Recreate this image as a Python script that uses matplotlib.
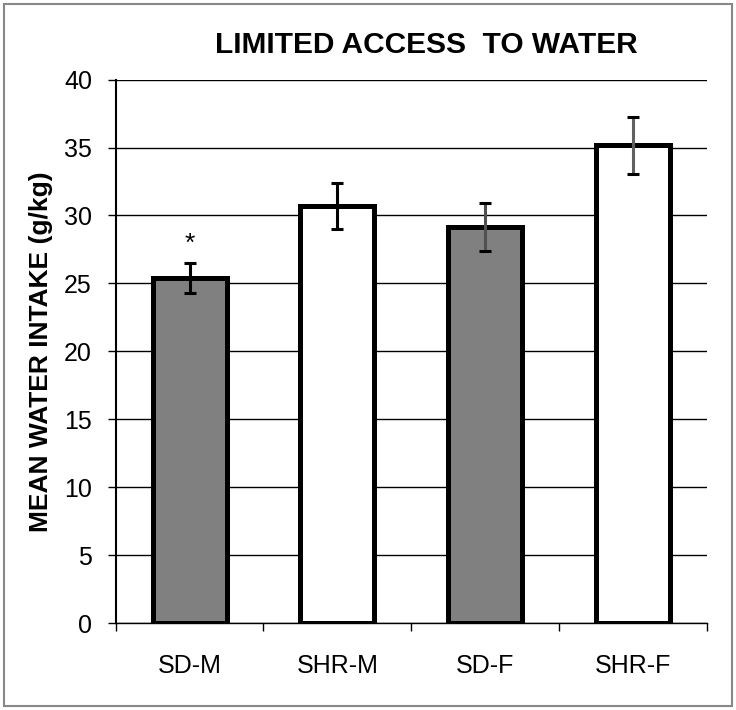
import numpy as np
import matplotlib.pyplot as plt
from matplotlib.patches import Rectangle

groups = ["SD-M", "SHR-M", "SD-F", "SHR-F"]
intake = [25.4, 30.7, 29.15, 35.15]
sem = [1.12, 1.7, 1.75, 2.1]
fills = ["#808080", "white", "#808080", "white"]
err_colors = ["black", "black", "#505050", "#606060"]
yticks = [0, 5, 10, 15, 20, 25, 30, 35, 40]

plt.rcParams['font.family'] = ['Liberation Sans', 'DejaVu Sans']

fig = plt.figure(figsize=(7.36, 7.10), dpi=100)
ax = fig.add_axes([0.157, 0.122, 0.804, 0.766])

x = np.arange(len(groups))
ax.set_axisbelow(True)
ax.yaxis.grid(True, color="black", lw=1)
ax.bar(x, intake, width=0.5, color=fills, edgecolor="black", linewidth=3.6, zorder=2)
for i in range(len(groups)):
    eb = ax.errorbar(x[i], intake[i], yerr=sem[i], fmt="none", ecolor=err_colors[i],
                     elinewidth=2.2, capsize=4, capthick=2.2, zorder=3)
    for cap in eb[1]:
        cap.set_color("black")
        cap.set_markeredgecolor("black")
ax.text(x[0], intake[0] + sem[0] + 0.5, "*", ha="center", va="bottom", fontsize=19)

ax.set_xlim(-0.5, len(groups) - 0.5)
ax.set_ylim(0, 40)
ax.set_yticks(yticks)
ax.set_xticks(x)
ax.set_xticklabels(groups, fontsize=18)
ax.set_xticks(np.arange(len(groups) + 1) - 0.5, minor=True)
ax.tick_params(axis="x", which="major", length=0, pad=22)
ax.tick_params(axis="x", which="minor", length=6, width=1)
ax.tick_params(axis="y", labelsize=18, length=6, width=1, pad=11)

for s in ["top", "right"]:
    ax.spines[s].set_visible(False)
ax.spines["left"].set_linewidth(1.5)
ax.spines["bottom"].set_linewidth(1)

ax.set_ylabel("MEAN WATER INTAKE (g/kg)", fontsize=19, fontweight="bold", labelpad=8)
fig.text(0.579, 0.937, "LIMITED ACCESS  TO WATER", ha="center", va="center",
         fontsize=21.5, fontweight="bold")

fig.patches.append(Rectangle((0.005, 0.005), 0.99, 0.99, transform=fig.transFigure,
                             fill=False, edgecolor="#888888", lw=1.5))

fig.savefig("out.png", dpi=100)
